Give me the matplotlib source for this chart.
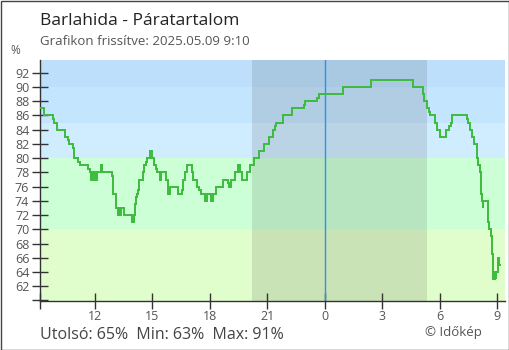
import matplotlib
matplotlib.use("Agg")
import matplotlib.pyplot as plt
from matplotlib.patches import Rectangle

# Relative humidity readings (step changes), local time, 2025.05.08 09:10 -> 2025.05.09 09:10
times = [
    "09:10", "09:22", "09:50", "09:54", "10:02", "10:28", "10:36", "10:41", "10:51", "10:54",
    "11:09", "11:13", "11:40", "11:44", "11:49", "11:54", "12:02", "12:08", "12:20", "12:24",
    "12:54", "12:58", "13:07", "13:12", "13:17", "13:19", "13:22", "13:33", "13:56", "14:02",
    "14:06", "14:09", "14:12", "14:16", "14:20", "14:32", "14:35", "14:41", "14:43", "14:54",
    "14:58", "15:07", "15:11", "15:14", "15:26", "15:29", "15:42", "15:49", "15:56", "16:22",
    "16:32", "16:37", "16:43", "16:48", "17:06", "17:09", "17:21", "17:27", "17:32", "17:46",
    "17:51", "18:04", "18:10", "18:19", "18:43", "18:58", "19:02", "19:06", "19:19", "19:28",
    "19:35", "19:42", "19:56", "20:06", "20:20", "20:35", "20:50", "21:06", "21:18", "21:24",
    "21:29", "21:51", "22:19", "22:57", "23:00", "23:37", "23:42", "00:59", "02:26", "04:36",
    "05:07", "05:10", "05:22", "05:27", "05:31", "05:47", "05:53", "06:02", "06:21", "06:31",
    "06:35", "06:40", "07:27", "07:30", "07:36", "07:42", "07:49", "07:58", "08:02", "08:06",
    "08:10", "08:12", "08:15", "08:16", "08:33", "08:36", "08:40", "08:43", "08:47", "08:48",
    "08:51", "08:52", "08:54", "08:56", "08:58", "09:04", "09:07",
]
humidity = [
    87, 86, 85.5, 85, 84, 83, 82.5, 82, 81.5, 80,
    79.5, 79, 78.5, 78, 77, 78, 77, 78, 79, 78,
    77.5, 75, 73, 72, 73, 72, 73, 72, 71, 72,
    73.5, 74.5, 75, 75.5, 77, 78, 79, 79.5, 80, 81,
    80, 79, 78.5, 78, 77, 78, 77, 75, 76, 75,
    75.5, 77, 78, 79, 78, 77, 76, 75.5, 75, 74,
    75, 74, 75, 76, 77, 76.5, 76, 77, 78, 79,
    78, 77, 78, 79, 80, 81, 82, 83, 84, 84.5,
    85, 86, 87, 87.5, 88, 88.5, 89, 90, 91, 90,
    89, 88, 87, 86.5, 86, 85, 84, 83, 84, 84.5,
    85, 86, 85.5, 85, 84, 83, 82, 80, 79, 78,
    75, 74, 73, 74, 71, 70, 69, 66.5, 66, 63,
    64, 63, 64, 63, 64, 66, 65,
]
end_time = "09:10"
night_start, night_end = "20:13", "05:21"

x_ticks = [12, 15, 18, 21, 24, 27, 30, 33]
x_labels = ["12", "15", "18", "21", "0", "3", "6", "9"]
y_ticks = list(range(60, 93, 2))

# humidity bands: (low, high, colour)
bands = [
    (90, 94, "#bddffc"),
    (85, 90, "#c4e5fe"),
    (80, 85, "#d0ecff"),
    (70, 80, "#ccffd5"),
    (50, 70, "#e0fdcc"),
]

title = "Barlahida - Páratartalom"
subtitle = "Grafikon frissítve: 2025.05.09 9:10"
credit = "© Időkép"


def to_hours(labels, start=None):
    """Clock strings -> hours since midnight of the first day, wrapping past 24."""
    out, day, prev = [], 0, start
    for s in labels:
        h, m = map(int, s.split(":"))
        v = h + m / 60
        if prev is not None and v + day < prev:
            day += 24
        out.append(v + day)
        prev = out[-1]
    return out


t = to_hours(times + [end_time])
vals = humidity + [humidity[-1]]
t0 = t[0]
ns = to_hours([night_start], start=t0)[0]
ne = to_hours([night_end], start=ns)[0]

plt.rcParams["font.family"] = ["Open Sans", "DejaVu Sans"]

W, H = 510, 350
fig = plt.figure(figsize=(W / 100, H / 100), dpi=100)
fig.patch.set_facecolor("white")

left_px, right_px, top_px, bot_px = 40.4, 505, 60, 300.5
ax = fig.add_axes([left_px / W, 1 - bot_px / H,
                   (right_px - left_px) / W, (bot_px - top_px) / H])

ymin, ymax = 60, 93.8
xmax = t0 + (right_px - left_px) / 19.157
ax.set_xlim(t0, xmax)
ax.set_ylim(ymin, ymax)

for lo, hi, c in bands:
    ax.axhspan(lo, hi, color=c, lw=0, zorder=0)

ax.axvspan(ns, ne, color="black", alpha=0.1, lw=0, zorder=1)
ax.axvline(24, color="#2196f3", lw=1.0, zorder=2)

ax.step(t, vals, where="post", color="#3dbb3d", lw=1.4, zorder=3,
        solid_joinstyle="miter")

for side in ("top", "right"):
    ax.spines[side].set_visible(False)
for side in ("left", "bottom"):
    ax.spines[side].set_color("#333333")
    ax.spines[side].set_linewidth(1.0)

ax.set_yticks(y_ticks)
ax.set_yticklabels([""] + [str(v) for v in y_ticks[1:]])
ax.set_xticks([t0] + x_ticks)
ax.set_xticklabels([""] + x_labels)
ax.tick_params(axis="both", direction="inout", length=12, width=1.0,
               color="#333333", labelcolor="#555555", labelsize=9)
ax.tick_params(axis="y", pad=2)
ax.tick_params(axis="x", pad=1)

fig.text(40 / W, 1 - 25 / H, title, fontsize=12.5, color="#222222",
         ha="left", va="baseline")
fig.text(40 / W, 1 - 45 / H, subtitle, fontsize=9.5, color="#555555",
         ha="left", va="baseline")
fig.text(15 / W, 1 - 50 / H, "%", fontsize=8.5, color="#555555",
         ha="center", va="center")

last, lo_v, hi_v = humidity[-1], min(humidity), max(humidity)
stats = f"Utolsó: {last:.0f}%  Min: {lo_v:.0f}%  Max: {hi_v:.0f}%"
fig.text(40 / W, 1 - 339 / H, stats, fontsize=11.5, color="#444444",
         ha="left", va="baseline")
fig.text(482 / W, 1 - 336 / H, credit, fontsize=9.5, color="#555555",
         ha="right", va="baseline")

fig.add_artist(Rectangle((0.5 / W, 0.5 / H), 1 - 1.5 / W, 1 - 1.5 / H,
                         transform=fig.transFigure, fill=False,
                         edgecolor="#444444", lw=1.0))

fig.savefig("out.png", dpi=100)
